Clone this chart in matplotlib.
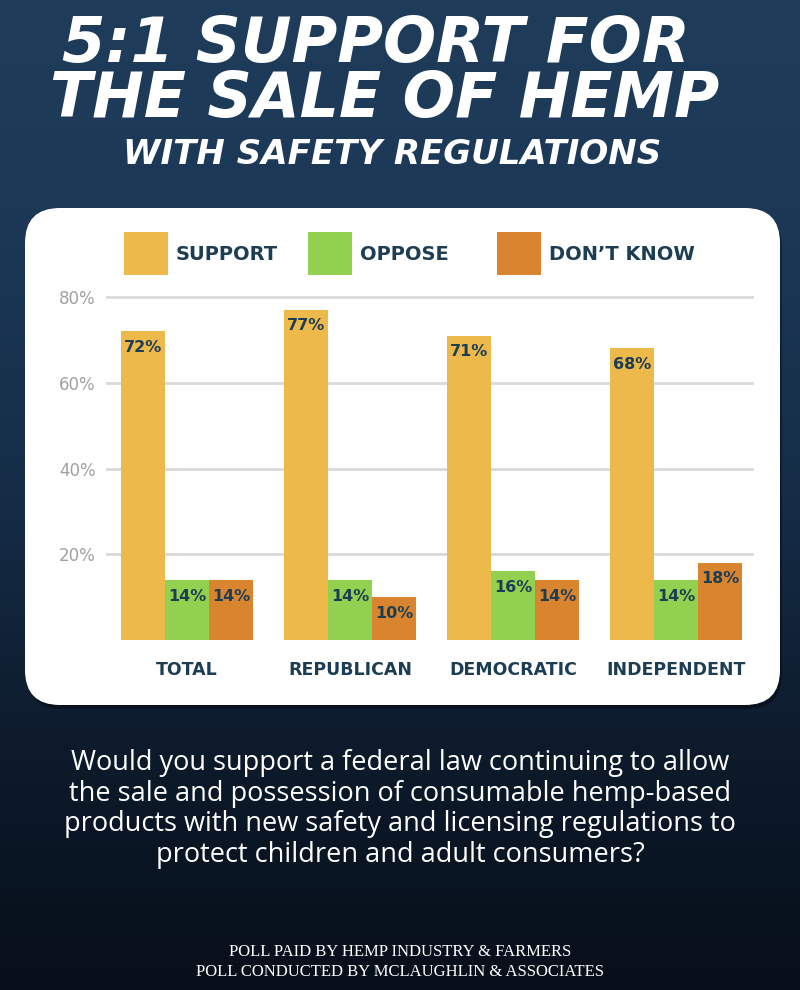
import numpy as np
import matplotlib
matplotlib.use("Agg")
import matplotlib.pyplot as plt
from matplotlib.patches import FancyBboxPatch, Rectangle
from matplotlib.colors import LinearSegmentedColormap

# data
groups = ["TOTAL", "REPUBLICAN", "DEMOCRATIC", "INDEPENDENT"]
series_names = ["SUPPORT", "OPPOSE", "DON\u2019T KNOW"]
support = [72, 77, 71, 68]
oppose = [14, 14, 16, 14]
dont_know = [14, 10, 14, 18]
y_ticks = [20, 40, 60, 80]

colors = ["#ECB94A", "#92D050", "#D98530"]
navy = "#1d3d55"

fig = plt.figure(figsize=(8, 9.9), dpi=100)

# background gradient
bg = fig.add_axes([0, 0, 1, 1], zorder=-10)
grad = np.linspace(0, 1, 256).reshape(-1, 1)
cmap = LinearSegmentedColormap.from_list("bg", ["#1f3d5b", "#1b3755", "#152d47", "#0d1b2c", "#070f1a"])
bg.imshow(grad, aspect="auto", cmap=cmap, extent=[0, 1, 0, 1])
bg.set_axis_off()

# white card (inches)
shadow = FancyBboxPatch((0.27, 2.81), 7.55, 4.97, boxstyle="round,pad=0,rounding_size=0.35",
                        transform=fig.dpi_scale_trans, facecolor="#000000", alpha=0.35,
                        edgecolor="none", zorder=-5)
fig.patches.append(shadow)
card = FancyBboxPatch((0.25, 2.85), 7.55, 4.97, boxstyle="round,pad=0,rounding_size=0.35",
                      transform=fig.dpi_scale_trans, facecolor="white", edgecolor="none", zorder=-4)
fig.patches.append(card)

# titles
title_kw = dict(color="white", ha="center", va="center", family="DejaVu Sans",
                weight="heavy", style="italic")
fig.text(0.47, 1 - 45 / 990, "5:1 SUPPORT FOR", fontsize=45, **title_kw)
fig.text(0.481, 1 - 100 / 990, "THE SALE OF HEMP", fontsize=44.5, **title_kw)
fig.text(0.49, 1 - 155 / 990, "WITH SAFETY REGULATIONS", fontsize=24.5, **title_kw)

# bar chart
ax = fig.add_axes([107 / 800, 1 - 640 / 990, 645 / 800, 343 / 990])
x = np.arange(len(groups))
w = 0.27
for k, (vals, c) in enumerate(zip([support, oppose, dont_know], colors)):
    bars = ax.bar(x + (k - 1) * w, vals, width=w, color=c, zorder=3)
    for b, v in zip(bars, vals):
        ax.text(b.get_x() + b.get_width() / 2, v - 2.0, f"{v}%", ha="center", va="top",
                fontsize=11.5, weight="bold", color=navy, family="DejaVu Sans", zorder=4)

ax.set_xlim(-0.49, 3.466)
ax.set_ylim(0, 80)
ax.set_yticks(y_ticks)
ax.set_yticklabels([f"{t}%" for t in y_ticks], fontsize=12, color="#a0a0a0", family="DejaVu Sans")
ax.tick_params(axis="y", length=0, pad=8)
ax.set_xticks(x)
ax.set_xticklabels(groups, fontsize=12.5, weight="bold", color=navy, family="DejaVu Sans")
ax.tick_params(axis="x", length=0, pad=15)
ax.yaxis.grid(True, color="#d9d9d9", linewidth=2, zorder=0)
for ln in ax.get_ygridlines():
    ln.set_clip_on(False)
for s in ax.spines.values():
    s.set_visible(False)
ax.set_facecolor("none")

# legend
leg_x = [124, 308, 497]
for lx, name, c in zip(leg_x, series_names, colors):
    fig.patches.append(Rectangle((lx / 800, 1 - 275 / 990), 44 / 800, 43 / 990,
                                 transform=fig.transFigure, facecolor=c, edgecolor="none"))
    fig.text((lx + 52) / 800, 1 - 254 / 990, name, fontsize=14, weight="bold",
             color=navy, family="DejaVu Sans", va="center", ha="left")

# question
question = ("Would you support a federal law continuing to allow\n"
            "the sale and possession of consumable hemp-based\n"
            "products with new safety and licensing regulations to\n"
            "protect children and adult consumers?")
fig.text(0.5, 1 - 809 / 990, question, fontsize=19.5, color="white", ha="center", va="center",
         family="Open Sans", linespacing=1.14)

# footer
footer = "POLL PAID BY HEMP INDUSTRY & FARMERS\nPOLL CONDUCTED BY MCLAUGHLIN & ASSOCIATES"
fig.text(0.5, 1 - 962 / 990, footer, fontsize=12, color="white", ha="center", va="center",
         family="Liberation Serif", linespacing=1.3)

fig.savefig("out.png", dpi=100)
